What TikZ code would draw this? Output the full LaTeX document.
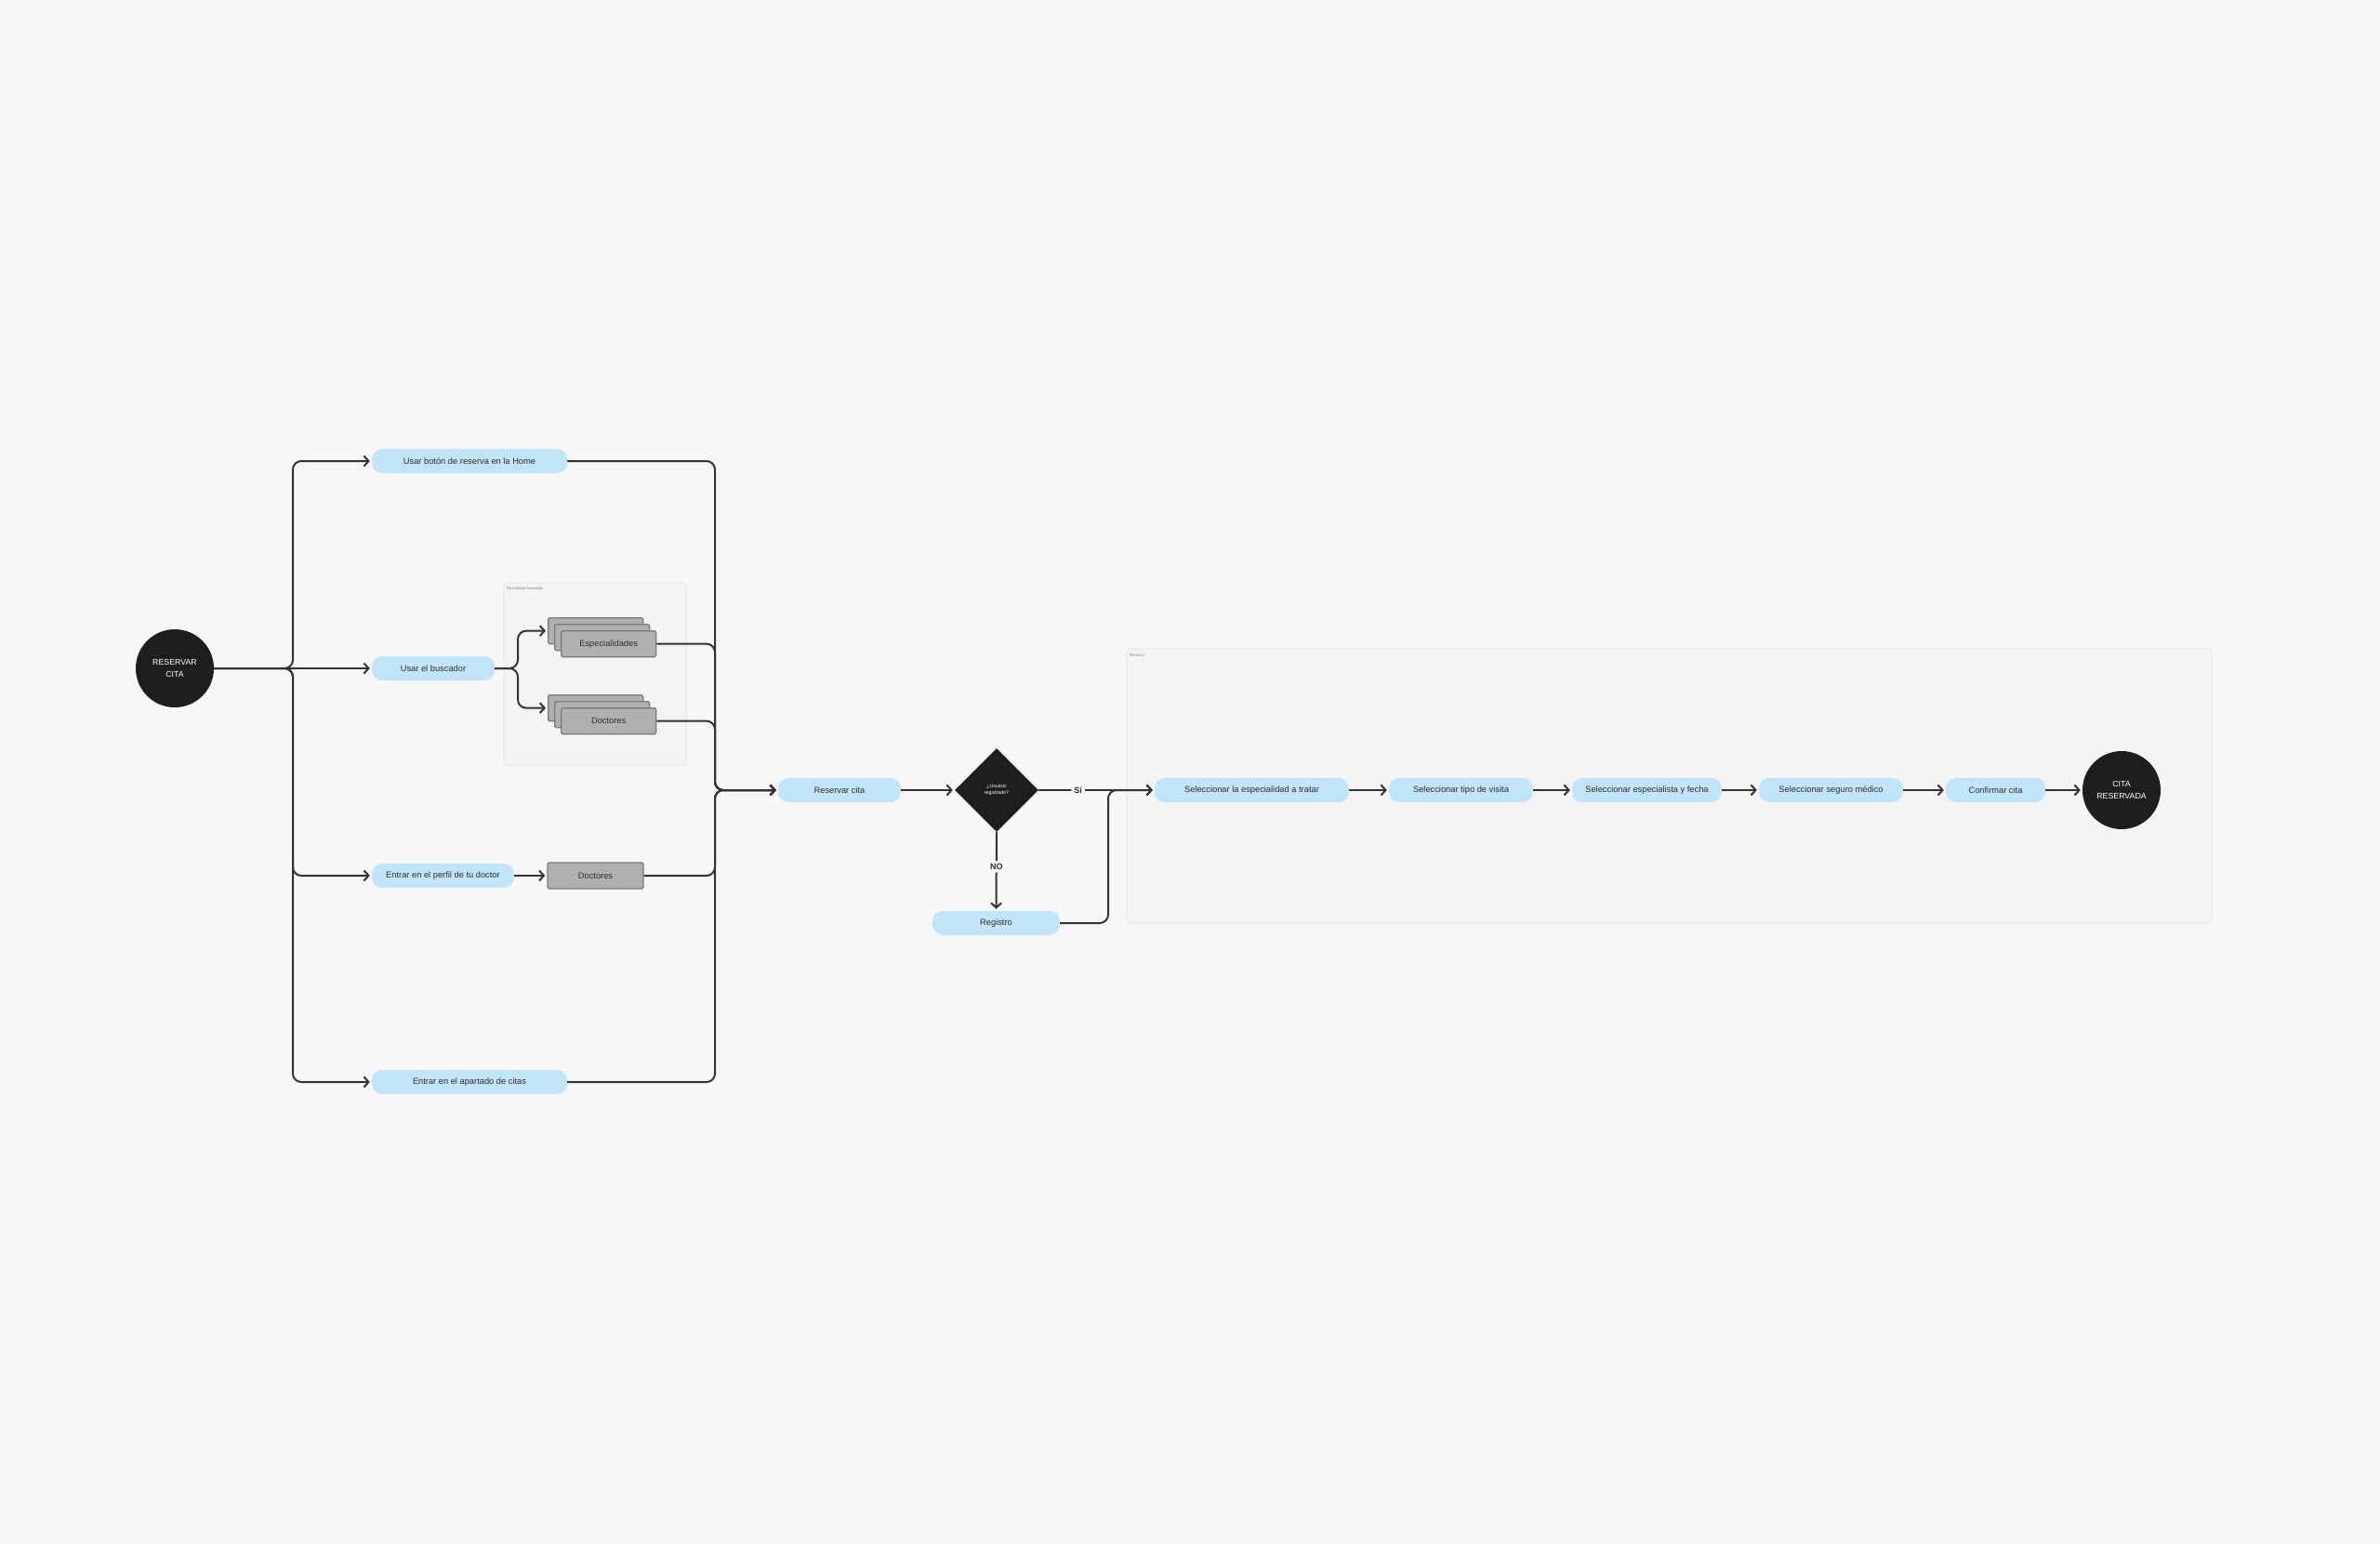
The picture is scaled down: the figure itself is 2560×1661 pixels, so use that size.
\documentclass[tikz,border=0pt]{standalone}
\usepackage{fontspec}
\setmainfont{Liberation Sans}
\usetikzlibrary{arrows.meta,shapes.geometric}
\definecolor{bg}{HTML}{F7F7F9}
\definecolor{pillblue}{HTML}{C2E4F8}
\definecolor{txt}{HTML}{2E2E2E}
\definecolor{dark}{HTML}{1E1E1E}
\definecolor{linec}{HTML}{333333}
\definecolor{gfill}{HTML}{B0B0B0}
\definecolor{gborder}{HTML}{7A7A7A}
\definecolor{cfill}{HTML}{F4F4F6}
\definecolor{cborder}{HTML}{E8E8EB}
\begin{document}
\begin{tikzpicture}[x=1pt,y=-1pt,
  pill/.style={rectangle, rounded corners=11pt, fill=pillblue, minimum height=26pt,
    text=txt, font=\fontsize{9.3}{11}\selectfont, inner sep=0pt},
  gbox/.style={rectangle, rounded corners=1.5pt, draw=gborder, fill=gfill, line width=1.3pt,
    minimum width=102pt, minimum height=28pt, inner sep=0pt, text=txt,
    font=\fontsize{9.3}{11}\selectfont},
  blackcirc/.style={circle, fill=dark, minimum size=84pt, inner sep=0pt, text=white,
    align=center, font=\fontsize{8.8}{13}\selectfont},
  dia/.style={diamond, fill=dark, minimum size=90pt, inner sep=0pt, aspect=1, text=white,
    align=center, font=\fontsize{5.2}{7}\selectfont},
  container/.style={fill=cfill, draw=cborder, line width=1pt, rounded corners=4pt},
  clabel/.style={anchor=west, text=gray, font=\fontsize{4.2}{5}\selectfont, inner sep=1pt},
  conn/.style={draw=linec, line width=2pt, rounded corners=9pt, shorten >=2pt,
    -{Straight Barb[length=5pt,width=11pt,line width=2pt]}},
  lbl/.style={fill=bg, text=txt, inner sep=3pt, font=\fontsize{9}{11}\selectfont\bfseries}
]
\fill[bg] (0,0) rectangle (2560,1661);
\useasboundingbox (0,0) rectangle (2560,1661);

% containers
\draw[container] (542,627) rectangle (738,823);
\node[clabel] (reslbl) at (544,633) {Resultados buscador};
\draw[container] (1212,698) rectangle (2379,993);
\node[clabel] (reslbl2) at (1214,705) {Reserva};

% start
\node[blackcirc] (start) at (188,719) {RESERVAR\\CITA};

% left branch nodes
\node[pill, minimum width=210pt] (home) at (505,496) {Usar botón de reserva en la Home};
\node[pill, minimum width=132pt] (busc) at (466,719) {Usar el buscador};
\node[pill, minimum width=153pt] (perfil) at (476.5,942) {Entrar en el perfil de tu doctor};
\node[pill, minimum width=210pt] (apart) at (505,1164) {Entrar en el apartado de citas};

% stacks
\node[gbox, anchor=north west] (espA) at (589,664) {};
\node[gbox, anchor=north west] (espB) at (596,671) {};
\node[gbox, anchor=north west] (esp) at (603,678) {Especialidades};
\node[gbox, anchor=north west] (docA) at (589,747) {};
\node[gbox, anchor=north west] (docB) at (596,754) {};
\node[gbox, anchor=north west] (doc) at (603,761) {Doctores};
\node[gbox, minimum width=103pt] (doc2) at (640.5,942) {Doctores};

% middle
\node[pill, minimum width=132pt] (rcita) at (903,850) {Reservar cita};
\node[dia] (q) at (1072,850) {¿Usuario\\registrado?};
\node[pill, minimum width=137pt] (reg) at (1071.5,993) {Registro};

% reserva flow
\node[pill, minimum width=209pt] (s1) at (1346.5,850) {Seleccionar la especialidad a tratar};
\node[pill, minimum width=155pt] (s2) at (1571.5,850) {Seleccionar tipo de visita};
\node[pill, minimum width=161pt] (s3) at (1771.5,850) {Seleccionar especialista y fecha};
\node[pill, minimum width=155pt] (s4) at (1969.5,850) {Seleccionar seguro médico};
\node[pill, minimum width=107pt] (s5) at (2146.5,850) {Confirmar cita};
\node[blackcirc] (fin) at (2282,850) {CITA\\RESERVADA};

% connectors from start
\coordinate (busL) at (315,719);
\draw[conn] (start.east) -- (busL) |- (home.west);
\draw[conn] (start.east) -- (busc.west);
\draw[conn] (start.east) -- (busL) |- (perfil.west);
\draw[conn] (start.east) -- (busL) |- (apart.west);

% buscador fork
\coordinate (fork) at (557,719);
\draw[conn] (busc.east) -- (fork) |- (espA.west);
\draw[conn] (busc.east) -- (fork) |- (docA.west);
\draw[conn] (perfil.east) -- (doc2.west);

% right bus into Reservar cita
\coordinate (busR) at (769,850);
\draw[conn] (home.east) -- (home.east -| busR) |- (rcita.west);
\draw[conn] (esp.east) -- (esp.east -| busR) |- (rcita.west);
\draw[conn] (doc.east) -- (doc.east -| busR) |- (rcita.west);
\draw[conn] (doc2.east) -- (doc2.east -| busR) |- (rcita.west);
\draw[conn] (apart.east) -- (apart.east -| busR) |- (rcita.west);

% decision
\draw[conn] (rcita.east) -- (q.west);
\draw[conn] (q.east) -- node[lbl, pos=0.34] {Sí} (s1.west);
\draw[conn] (q.south) -- node[lbl, pos=0.44] {NO} (reg.north);
\coordinate (busJ) at (1192,850);
\draw[conn] (reg.east) -- (reg.east -| busJ) |- (s1.west);

% flow
\draw[conn] (s1.east) -- (s2.west);
\draw[conn] (s2.east) -- (s3.west);
\draw[conn] (s3.east) -- (s4.west);
\draw[conn] (s4.east) -- (s5.west);
\draw[conn] (s5.east) -- (fin.west);
\end{tikzpicture}
\end{document}
